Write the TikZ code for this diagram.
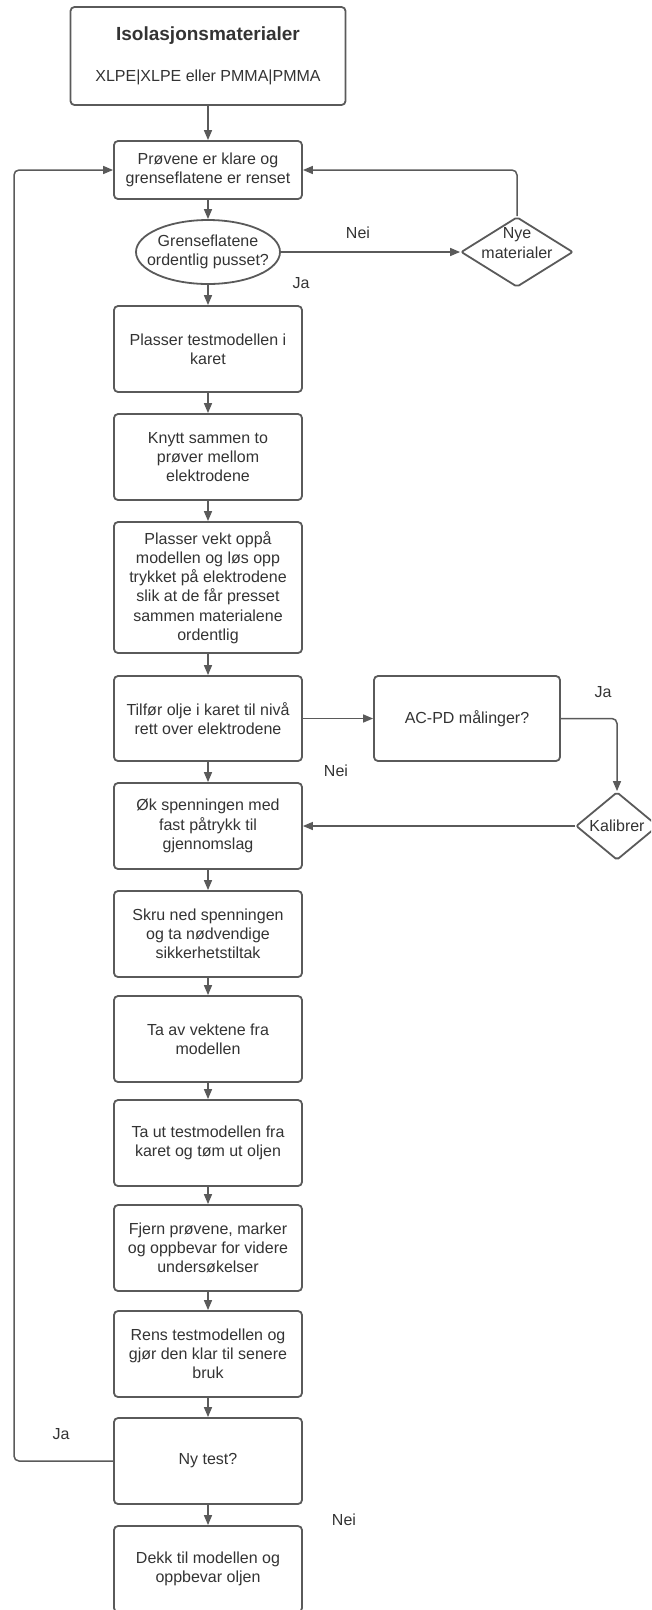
\documentclass[tikz,border=0pt]{standalone}
\usepackage{fontspec}
\setmainfont{Liberation Sans}
\usetikzlibrary{arrows.meta,shapes.geometric}
\definecolor{linec}{HTML}{5A5A5A}
\definecolor{txtc}{HTML}{333333}
\begin{document}
\begin{tikzpicture}[x=1pt,y=-1pt,
  every node/.style={font=\fontsize{16}{19.2}\selectfont, text=txtc},
  box/.style={draw=linec, line width=1.8pt, rounded corners=4pt, minimum width=188pt, minimum height=86pt, align=center, inner sep=2pt},
  shp/.style={draw=linec, line width=1.8pt, align=center},
  arr/.style={draw=linec, line width=1.5pt, -{Triangle[length=10pt,width=8pt]}},
  lbl/.style={inner sep=0pt}
]
\useasboundingbox (0,0) rectangle (651,1610);
\clip (0,0) rectangle (651,1610);

% main column
\node[box, minimum width=275pt, minimum height=98pt] (top) at (208,56)
  {{\fontsize{19}{23}\selectfont\bfseries Isolasjonsmaterialer}\\[22pt]XLPE|XLPE eller PMMA|PMMA};
\node[box, minimum height=58pt] (prov) at (208,170) {Prøvene er klare og\\grenseflatene er renset};
\node[shp, ellipse, minimum width=144pt, minimum height=64pt, inner xsep=-11pt, inner ysep=0pt] (ell) at (208,252) {Grenseflatene\\ordentlig pusset?};
\node[shp, diamond, minimum width=112pt, minimum height=70pt, inner sep=0pt, rounded corners=2pt,
  label={[align=center, yshift=9pt]center:{Nye\\materialer}}] (nye) at (517,252) {};
\node[box] (b3) at (208,349) {Plasser testmodellen i\\karet};
\node[box] (b4) at (208,457) {Knytt sammen to\\prøver mellom\\elektrodene};
\node[box, minimum height=131pt] (b5) at (208,587.5) {Plasser vekt oppå\\modellen og løs opp\\trykket på elektrodene\\slik at de får presset\\sammen materialene\\ordentlig};
\node[box, minimum height=85pt] (b6) at (208,718.5) {Tilfør olje i karet til nivå\\rett over elektrodene};
\node[box, minimum width=186pt, minimum height=85pt] (acpd) at (467,718.5) {AC-PD målinger?};
\node[shp, diamond, minimum width=82pt, minimum height=68pt, inner sep=0pt, rounded corners=2pt] (kal) at (617,826) {Kalibrer};
\node[box] (ok) at (208,826) {Øk spenningen med\\fast påtrykk til\\gjennomslag};
\node[box] (skru) at (208,934) {Skru ned spenningen\\og ta nødvendige\\sikkerhetstiltak};
\node[box] (taav) at (208,1039) {Ta av vektene fra\\modellen};
\node[box] (taut) at (208,1143) {Ta ut testmodellen fra\\karet og tøm ut oljen};
\node[box] (fjern) at (208,1248) {Fjern prøvene, marker\\og oppbevar for videre\\undersøkelser};
\node[box] (rens) at (208,1354) {Rens testmodellen og\\gjør den klar til senere\\bruk};
\node[box] (nytest) at (208,1461) {Ny test?};
\node[box] (dekk) at (208,1569) {Dekk til modellen og\\oppbevar oljen};

% labels
\node[lbl] (lnei1) at (358,233) {Nei};
\node[lbl] (lja1) at (301,283) {Ja};
\node[lbl] (lja2) at (603,692) {Ja};
\node[lbl] (lnei2) at (336,771) {Nei};
\node[lbl] (lja3) at (61,1434) {Ja};
\node[lbl] (lnei3) at (344,1520) {Nei};

% connectors
\draw[arr] (top) -- (prov);
\draw[arr] (prov) -- (ell);
\draw[arr] (ell) -- (nye);
\draw[arr, rounded corners=5pt] (nye.north) |- (prov.east);
\draw[arr] (ell) -- (b3);
\draw[arr] (b3) -- (b4);
\draw[arr] (b4) -- (b5);
\draw[arr] (b5) -- (b6);
\draw[arr] (b6) -- (acpd);
\draw[arr, rounded corners=5pt] (acpd.east) -| (kal.north);
\draw[arr] (kal) -- (ok);
\draw[arr] (b6) -- (ok);
\draw[arr] (ok) -- (skru);
\draw[arr] (skru) -- (taav);
\draw[arr] (taav) -- (taut);
\draw[arr] (taut) -- (fjern);
\draw[arr] (fjern) -- (rens);
\draw[arr] (rens) -- (nytest);
\draw[arr] (nytest) -- (dekk);
\coordinate (lp) at (14,170);
\draw[arr, rounded corners=5pt] (nytest.west) -| (lp) -- (prov.west);
\end{tikzpicture}
\end{document}
